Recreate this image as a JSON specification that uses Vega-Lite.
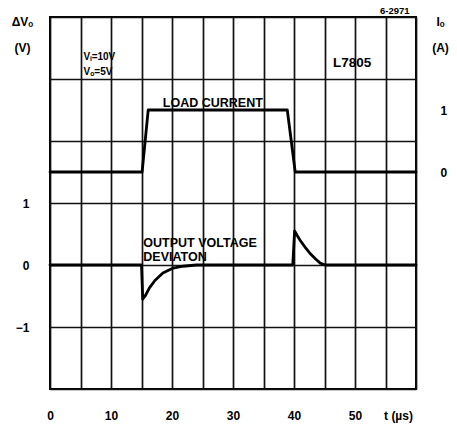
{
  "$schema": "https://vega.github.io/schema/vega-lite/v6.json",
  "width": 366,
  "height": 372,
  "autosize": {"type": "none"},
  "padding": {"left": 50, "top": 17, "right": 41, "bottom": 39},
  "background": "white",
  "config": {
    "view": {"stroke": "black", "strokeWidth": 2},
    "font": "Liberation Sans",
    "axis": {
      "labelFont": "Liberation Sans",
      "labelFontWeight": "bold",
      "labelFontSize": 12,
      "labelColor": "black",
      "titleFont": "Liberation Sans",
      "titleFontWeight": "bold",
      "titleFontSize": 12,
      "titleColor": "black",
      "ticks": false,
      "domain": false,
      "gridColor": "#111111",
      "gridWidth": 1.7,
      "gridOpacity": 1
    },
    "text": {"font": "Liberation Sans", "fontWeight": "bold", "color": "black"}
  },
  "datasets": {
    "voltage": [
      {"t": 0, "dv": 0}, {"t": 15.0, "dv": 0}, {"t": 15.2, "dv": -0.55}, {"t": 15.6, "dv": -0.5},
      {"t": 16.3, "dv": -0.37}, {"t": 17.2, "dv": -0.25}, {"t": 18.5, "dv": -0.13}, {"t": 20.2, "dv": -0.05},
      {"t": 21.8, "dv": -0.02}, {"t": 24, "dv": 0}, {"t": 39.8, "dv": 0}, {"t": 40.1, "dv": 0.55},
      {"t": 40.5, "dv": 0.48}, {"t": 41.0, "dv": 0.4}, {"t": 41.8, "dv": 0.29}, {"t": 42.6, "dv": 0.19},
      {"t": 43.5, "dv": 0.1}, {"t": 44.3, "dv": 0.03}, {"t": 45.1, "dv": 0}, {"t": 60, "dv": 0}
    ],
    "current": [
      {"t": 0, "io": 0}, {"t": 15.1, "io": 0}, {"t": 16.1, "io": 1}, {"t": 38.9, "io": 1}, {"t": 40.2, "io": 0}, {"t": 60, "io": 0}
    ],
    "notes": [
      {"t": 5.5, "dv": 3.35, "text": "Vᵢ=10V", "size": 10},
      {"t": 5.5, "dv": 3.12, "text": "Vₒ=5V", "size": 10},
      {"t": 46.4, "dv": 3.26, "text": "L7805", "size": 13.5},
      {"t": 18.5, "dv": 2.62, "text": "LOAD CURRENT", "size": 12.5},
      {"t": 15.3, "dv": 0.36, "text": "OUTPUT VOLTAGE", "size": 12.5},
      {"t": 15.3, "dv": 0.13, "text": "DEVIATON", "size": 12.5},
      {"t": 54.1, "dv": 4.1, "text": "6-2971", "size": 9.5}
    ]
  },
  "encoding": {
    "x": {
      "field": "t", "type": "quantitative",
      "scale": {"domain": [0, 60], "nice": false},
      "axis": {
        "values": [0, 5, 10, 15, 20, 25, 30, 35, 40, 45, 50, 55, 60],
        "grid": true,
        "labelExpr": "datum.value % 10 == 0 && datum.value < 60 ? datum.label : ''",
        "labelPadding": 21,
        "labelAlign": "center",
        "labelOverlap": false,
        "title": "t (µs)",
        "titleX": 348,
        "titleY": 26,
        "titleBaseline": "middle",
        "titleAlign": "center"
      }
    }
  },
  "layer": [
    {
      "data": {"name": "voltage"},
      "mark": {"type": "line", "color": "black", "strokeWidth": 2.8, "strokeJoin": "round", "strokeCap": "round"},
      "encoding": {
        "y": {
          "field": "dv", "type": "quantitative",
          "scale": {"domain": [-2, 4], "nice": false, "zero": false},
          "axis": {
            "orient": "left",
            "values": [-2, -1.5, -1, -0.5, 0, 0.5, 1, 1.5, 2, 2.5, 3, 3.5, 4],
            "grid": true,
            "format": "d",
            "labelExpr": "(datum.value == -1 || datum.value == 0 || datum.value == 1) ? datum.label : ''",
            "labelPadding": 21,
            "labelOverlap": false,
            "title": ["ΔVₒ", "(V)"],
            "titleAngle": 0,
            "titleAlign": "center",
            "titleBaseline": "top",
            "titleLineHeight": 26,
            "titleX": -28,
            "titleY": -1
          }
        }
      }
    },
    {
      "data": {"name": "current"},
      "mark": {"type": "line", "color": "black", "strokeWidth": 2.8, "strokeJoin": "round", "strokeCap": "round"},
      "encoding": {
        "y": {
          "field": "io", "type": "quantitative",
          "scale": {"domain": [-3.5, 2.5], "nice": false, "zero": false},
          "axis": {
            "orient": "right",
            "values": [0, 1],
            "grid": false,
            "labelPadding": 24,
            "labelAlign": "left",
            "title": ["Iₒ", "(A)"],
            "titleAngle": 0,
            "titleAlign": "center",
            "titleBaseline": "top",
            "titleLineHeight": 26,
            "titleX": 24,
            "titleY": -1
          }
        }
      }
    },
    {
      "data": {"name": "notes"},
      "mark": {"type": "text", "baseline": "middle", "align": "left"},
      "encoding": {
        "y": {"field": "dv", "type": "quantitative", "scale": {"domain": [-2, 4], "nice": false, "zero": false}, "axis": null},
        "text": {"field": "text"},
        "size": {"field": "size", "type": "quantitative", "scale": null, "legend": null}
      }
    }
  ],
  "resolve": {"scale": {"y": "independent"}}
}
